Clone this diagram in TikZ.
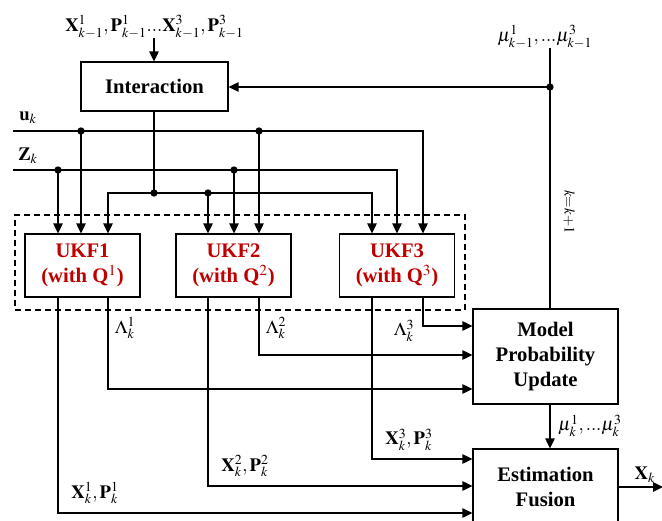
\documentclass[tikz,border=0pt]{standalone}
\usepackage{mathptmx}
\usepackage{fontspec}
\setmainfont{Liberation Serif}
\usetikzlibrary{arrows.meta}
\definecolor{ukfred}{RGB}{192,0,0}
\begin{document}
\begin{tikzpicture}[x=0.75pt,y=-0.75pt,
  box/.style={draw,line width=0.9pt,inner sep=0pt,align=center,font=\fontsize{15.5}{19}\selectfont\bfseries},
  ukf/.style={box,text=ukfred,minimum width=86.25pt,minimum height=47.25pt},
  wire/.style={line width=1.3pt},
  arr/.style={wire,-{Triangle[length=7.5pt,width=7pt]}},
  lbl/.style={inner sep=0pt,font=\fontsize{14}{16}\selectfont},
  dot/.style={circle,fill,inner sep=0pt,minimum size=5.5pt},
]
\useasboundingbox (0,0) rectangle (662,521);
\clip (0,0) rectangle (662,521);

% boxes
\node[box,minimum width=110.25pt,minimum height=36.75pt] (inter) at (154.5,86.5) {Interaction};
\node[draw,dashed,line width=1.1pt,dash pattern=on 4.5pt off 3pt,minimum width=337.5pt,minimum height=71.25pt,inner sep=0pt] (bank) at (240,262.5) {};
\node[ukf] (ukf1) at (82.5,265.5) {UKF1\\(with Q$^{1}$)};
\node[ukf] (ukf2) at (233.5,265.5) {UKF2\\(with Q$^{2}$)};
\node[ukf] (ukf3) at (397,265.5) {UKF3\\(with Q$^{3}$)};
\node[box,minimum width=108.75pt,minimum height=71.25pt] (mpu) at (545.5,356.5) {Model\\Probability\\Update};
\node[box,minimum width=108.75pt,minimum height=57pt] (fus) at (545.5,487) {Estimation\\Fusion};

% labels
\node[lbl] (xin) at (154.5,27) {$\mathbf{X}^{1}_{k-1},\mathbf{P}^{1}_{k-1}...\mathbf{X}^{3}_{k-1},\mathbf{P}^{3}_{k-1}$};
\node[lbl] (muin) at (545,37) {$\mu^{1}_{k-1},...\mu^{3}_{k-1}$};
\node[lbl] (ulab) at (28,118) {$\mathbf{u}_{k}$};
\node[lbl] (zlab) at (28,156) {$\mathbf{Z}_{k}$};
\node[lbl] (l1) at (125,328) {$\Lambda^{1}_{k}$};
\node[lbl] (l2) at (276,328) {$\Lambda^{2}_{k}$};
\node[lbl] (l3) at (404,331) {$\Lambda^{3}_{k}$};
\node[lbl] (xp3) at (409,440) {$\mathbf{X}^{3}_{k},\mathbf{P}^{3}_{k}$};
\node[lbl] (xp2) at (245,466) {$\mathbf{X}^{2}_{k},\mathbf{P}^{2}_{k}$};
\node[lbl] (xp1) at (95,493) {$\mathbf{X}^{1}_{k},\mathbf{P}^{1}_{k}$};
\node[lbl] (muk) at (590,426) {$\mu^{1}_{k},...\mu^{3}_{k}$};
\node[lbl] (xk) at (645,475) {$\mathbf{X}_{k}$};
\node[inner sep=0pt,rotate=-90,font=\fontsize{11}{13}\selectfont] (kk) at (569,212) {$k{=}k{+}1$};

% coordinates
\coordinate (xa) at (154,38);
\coordinate (mutop) at (550,48);
\coordinate (muj) at (550,87);
\coordinate (u0) at (13,131); \coordinate (u1) at (81,131); \coordinate (u2) at (259,131); \coordinate (u3) at (423,131);
\coordinate (z0) at (13,170); \coordinate (z1) at (58,170); \coordinate (z2) at (234,170); \coordinate (z3) at (397,170);
\coordinate (ij) at (154,193); \coordinate (i1) at (108,193); \coordinate (i2) at (208,193); \coordinate (i3) at (372,193);
\coordinate (rl3) at (0,326); \coordinate (rl2) at (0,355); \coordinate (rl1) at (0,389);
\coordinate (rx3) at (0,459); \coordinate (rx2) at (0,486); \coordinate (rx1) at (0,513);
\coordinate (xout) at (663,487);

% top inputs
\draw[arr] (xa) -- (xa |- inter.north);
\draw[wire] (mutop) -- (mutop |- mpu.north);
\draw[arr] (muj) -- (muj -| inter.east);

% u_k
\draw[arr] (u0) -- (u3) -- (u3 |- ukf3.north);
\draw[arr] (u1) -- (u1 |- ukf1.north);
\draw[arr] (u2) -- (u2 |- ukf2.north);
% Z_k
\draw[arr] (z0) -- (z3) -- (z3 |- ukf3.north);
\draw[arr] (z1) -- (z1 |- ukf1.north);
\draw[arr] (z2) -- (z2 |- ukf2.north);
% interaction output
\draw[wire] (ij |- inter.south) -- (ij);
\draw[arr] (ij) -- (i1) -- (i1 |- ukf1.north);
\draw[arr] (ij) -- (i3) -- (i3 |- ukf3.north);
\draw[arr] (i2) -- (i2 |- ukf2.north);

% outputs of UKFs
\draw[arr] (i1 |- ukf1.south) -- (i1 |- rl1) -- (rl1 -| mpu.west);
\draw[arr] (u2 |- ukf2.south) -- (u2 |- rl2) -- (rl2 -| mpu.west);
\draw[arr] (u3 |- ukf3.south) -- (u3 |- rl3) -- (rl3 -| mpu.west);
\draw[arr] (z1 |- ukf1.south) -- (z1 |- rx1) -- (rx1 -| fus.west);
\draw[arr] (i2 |- ukf2.south) -- (i2 |- rx2) -- (rx2 -| fus.west);
\draw[arr] (i3 |- ukf3.south) -- (i3 |- rx3) -- (rx3 -| fus.west);

% model -> fusion -> output
\draw[arr] (mutop |- mpu.south) -- (mutop |- fus.north);
\draw[arr] (fus.east) -- (xout);

% junction dots
\foreach \p in {muj,u1,u2,z1,z2,ij,i2} \node[dot] at (\p) {};
\end{tikzpicture}
\end{document}
